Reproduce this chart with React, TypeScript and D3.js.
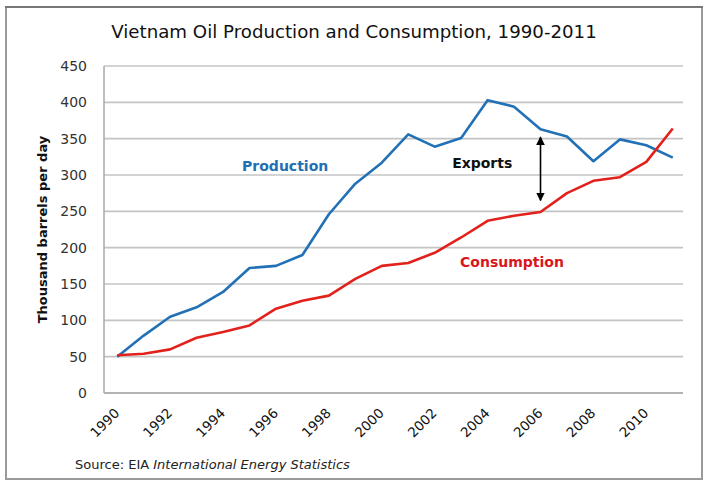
import React from "react";
import * as d3 from "d3";

const years = [1990,1991,1992,1993,1994,1995,1996,1997,1998,1999,2000,2001,2002,2003,2004,2005,2006,2007,2008,2009,2010,2011];
const production = [50,79,105,118,139,172,175,190,246,288,317,356,339,351,403,394,363,353,319,349,341,324];
const consumption = [52,54,60,76,84,93,116,127,134,157,175,179,193,214,237,244,249,275,292,297,318,364];
const yTicks = [0,50,100,150,200,250,300,350,400,450];
const xTickYears = [1990,1992,1994,1996,1998,2000,2002,2004,2006,2008,2010];

const labels = [
  { text: "Production", year: 1994.72, value: 305, color: "#1f6fb5" },
  { text: "Exports", year: 2002.66, value: 310, color: "#111111" },
  { text: "Consumption", year: 2002.96, value: 173.5, color: "#d9161c" },
];
const exportsArrow = { year: 2006, from: 265, to: 352 };

const W = 710, H = 487;
const plot = { left: 104, right: 686, top: 66, bottom: 393 };
const FONT = "'DejaVu Sans', sans-serif";

export default function App() {
  const x = d3.scaleLinear().domain([1989.5, 2011.5]).range([plot.left, plot.right]);
  const y = d3.scaleLinear().domain([0, 450]).range([plot.bottom, plot.top]);
  const line = d3.line<number>().x((_, i) => x(years[i])).y((d) => y(d));

  return (
    <svg width={W} height={H} style={{ position: "absolute", left: 0, top: 0, background: "#fff" }} fontFamily={FONT}>
      <defs>
        <marker id="ah" viewBox="0 0 10 10" refX="9" refY="5" markerWidth="5.5" markerHeight="5.5" orient="auto-start-reverse" markerUnits="strokeWidth">
          <path d="M0,0 L10,5 L0,10 z" fill="#000" />
        </marker>
      </defs>
      <rect x={0} y={0} width={W} height={H} fill="#fff" />
      {/* frame */}
      <rect x={6} y={7} width={696} height={472} fill="none" stroke="#9a9a9a" strokeWidth={2} />
      <line x1={5} x2={703} y1={7} y2={7} stroke="#777" strokeWidth={2} />

      <text x={354} y={38} textAnchor="middle" fontSize={18.2} fill="#111">
        Vietnam Oil Production and Consumption, 1990-2011
      </text>

      {/* gridlines */}
      {yTicks.map((t) => (
        <line key={t} x1={plot.left} x2={plot.right - 3} y1={y(t)} y2={y(t)} stroke="#c4c4c4" strokeWidth={1.6} />
      ))}
      <line x1={plot.left} x2={plot.left} y1={plot.top} y2={plot.bottom} stroke="#a8a8a8" strokeWidth={1.5} />
      <line x1={plot.left} x2={plot.right - 3} y1={plot.bottom} y2={plot.bottom} stroke="#a8a8a8" strokeWidth={1.6} />

      {yTicks.map((t) => (
        <text key={t} x={87} y={y(t) + 5} textAnchor="end" fontSize={14} fill="#333">
          {t}
        </text>
      ))}

      <text transform={`translate(47,${(plot.top + plot.bottom) / 2}) rotate(-90)`} textAnchor="middle" fontSize={13} fontWeight="bold" fill="#111">
        Thousand barrels per day
      </text>

      {xTickYears.map((yr) => (
        <text key={yr} transform={`translate(${x(yr) + 3},414) rotate(-45)`} textAnchor="end" fontSize={13.5} fill="#111">
          {yr}
        </text>
      ))}

      <path d={line(production) || ""} fill="none" stroke="#2271b6" strokeWidth={2.6} strokeLinejoin="round" />
      <path d={line(consumption) || ""} fill="none" stroke="#e2211c" strokeWidth={2.6} strokeLinejoin="round" />

      <line x1={x(exportsArrow.year)} x2={x(exportsArrow.year)} y1={y(exportsArrow.from)} y2={y(exportsArrow.to)} stroke="#000" strokeWidth={1.6} markerStart="url(#ah)" markerEnd="url(#ah)" />

      {labels.map((l) => (
        <text key={l.text} x={x(l.year)} y={y(l.value)} fontSize={14} fontWeight="bold" fill={l.color}>
          {l.text}
        </text>
      ))}

      <text x={75} y={469} fontSize={13} fill="#222">
        Source: EIA <tspan fontStyle="italic">International Energy Statistics</tspan>
      </text>
    </svg>
  );
}
